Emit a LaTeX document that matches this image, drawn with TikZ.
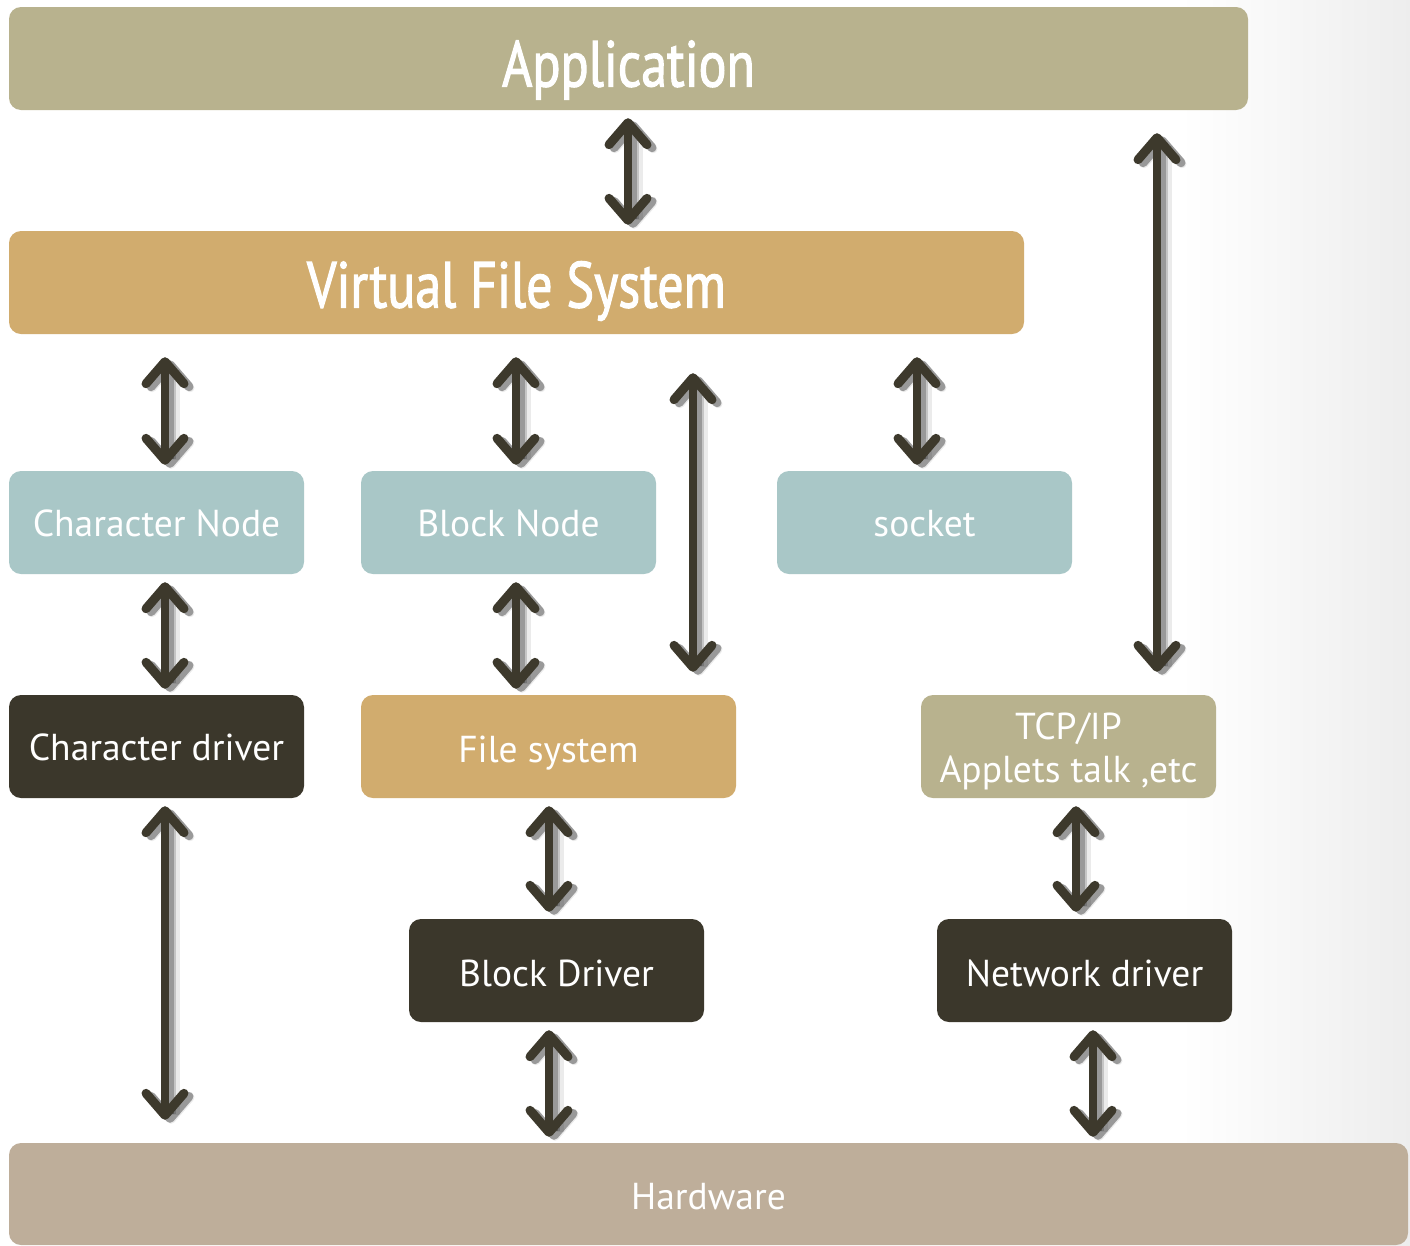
\documentclass[tikz,border=0pt]{standalone}
\usepackage{fontspec}
\setmainfont{PT Sans}
\newfontfamily\headfont[FakeStretch=0.8, FakeBold=1.6]{PT Sans}
\usetikzlibrary{arrows.meta,calc}

\definecolor{appc}{HTML}{B8B28E}
\definecolor{vfsc}{HTML}{D1AC6E}
\definecolor{nodec}{HTML}{A9C7C7}
\definecolor{darkc}{HTML}{3B372B}
\definecolor{hwc}{HTML}{BEAE9A}
\definecolor{arrowc}{HTML}{3D392C}

\tikzset{
  box/.style={rounded corners=12pt, text=white, align=center, inner sep=0pt,
    minimum width=295pt, minimum height=103pt,
    text height=27pt, text depth=0pt,
    font=\fontsize{37.5}{43}\selectfont},
  bigbox/.style={box, text height=46pt, font=\headfont\fontsize{65}{70}\selectfont},
  tip/.tip={Straight Barb[length=22pt, width=38pt, line width=9pt, round]},
  link/.style={draw=arrowc, line width=8.5pt, tip-tip,
    preaction={draw=black, opacity=0.08, line width=18pt,
      transform canvas={shift={(6pt,-4pt)}}},
    preaction={draw=black, opacity=0.16, line width=12pt,
      transform canvas={shift={(5pt,-3pt)}}},
    preaction={draw=black, opacity=0.22, line width=7pt,
      transform canvas={shift={(5pt,-3pt)}}}},
}

\begin{document}
\begin{tikzpicture}[x=1pt, y=-1pt]
  % page and soft grey fade on the right
  \useasboundingbox (0,0) rectangle (1410,1245);
  \fill[white] (0,0) rectangle (1410,1245);
  \shade[left color=white, right color=black!7] (1180,0) rectangle (1410,1245);

  % layers
  \node[bigbox, fill=appc, minimum width=1239pt] (app) at (628.5,58.5) {\raisebox{-5pt}{Application}};
  \node[bigbox, fill=vfsc, minimum width=1015pt] (vfs) at (516.5,282.5) {\raisebox{-2pt}{Virtual File System}};

  \node[box, fill=nodec] (cnode) at (156.5,522.5) {Character Node};
  \node[box, fill=nodec] (bnode) at (508.5,522.5) {Block Node};
  \node[box, fill=nodec] (sock)  at (924.5,522.5) {socket};

  \node[box, fill=darkc] (cdrv) at (156.5,746.5) {Character driver};
  \node[box, fill=vfsc, minimum width=375pt] (fs) at (548.5,746.5) {\raisebox{-2pt}{File system}};
  \node[box, fill=appc, text height=, text depth=] (tcp) at (1068.5,746.5)
    {\raisebox{-6pt}[\height][\depth]{\begin{tabular}{@{}c@{}}TCP/IP\\Applets talk ,etc\end{tabular}}};

  \node[box, fill=darkc] (bdrv) at (556.5,970.5) {\raisebox{-2pt}{Block Driver}};
  \node[box, fill=darkc] (ndrv) at (1084.5,970.5) {\raisebox{-2pt}{Network driver}};

  \node[box, fill=hwc, minimum width=1399pt, minimum height=102pt] (hw) at (708.5,1194) {\raisebox{-2pt}{Hardware}};

  % connector columns
  \coordinate (c0) at (628,0);
  \coordinate (c1) at (165,0);
  \coordinate (c2) at (516,0);
  \coordinate (c3) at (693,0);
  \coordinate (c4) at (917,0);
  \coordinate (c5) at (1157,0);
  \coordinate (c6) at (549,0);
  \coordinate (c7) at (1076,0);
  \coordinate (c8) at (1093,0);

  % connectors
  \draw[link, shorten <=8pt, shorten >=6pt] (app.south -| c0) -- (vfs.north -| c0);
  \draw[link, shorten <=23pt, shorten >=23pt] (app.south -| c5) -- (tcp.north -| c5);

  \draw[link, shorten <=23pt, shorten >=6pt] (vfs.south -| c1) -- (cnode.north -| c1);
  \draw[link, shorten <=23pt, shorten >=6pt] (vfs.south -| c2) -- (bnode.north -| c2);
  \draw[link, shorten <=39pt, shorten >=23pt] (vfs.south -| c3) -- (fs.north -| c3);
  \draw[link, shorten <=23pt, shorten >=6pt] (vfs.south -| c4) -- (sock.north -| c4);

  \draw[link, shorten <=8pt, shorten >=6pt] (cnode.south -| c1) -- (cdrv.north -| c1);
  \draw[link, shorten <=8pt, shorten >=6pt] (bnode.south -| c2) -- (fs.north -| c2);

  \draw[link, shorten <=8pt, shorten >=23pt] (cdrv.south -| c1) -- (hw.north -| c1);
  \draw[link, shorten <=8pt, shorten >=7pt] (fs.south -| c6) -- (bdrv.north -| c6);
  \draw[link, shorten <=8pt, shorten >=7pt] (tcp.south -| c7) -- (ndrv.north -| c7);

  \draw[link, shorten <=8pt, shorten >=6pt] (bdrv.south -| c6) -- (hw.north -| c6);
  \draw[link, shorten <=8pt, shorten >=6pt] (ndrv.south -| c8) -- (hw.north -| c8);
\end{tikzpicture}
\end{document}
